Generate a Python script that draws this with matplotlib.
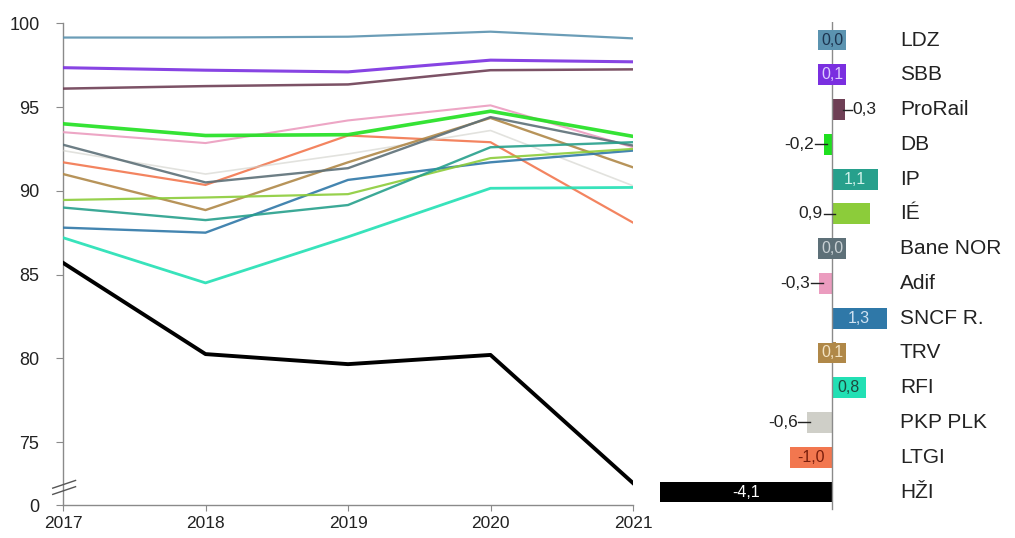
import matplotlib.pyplot as plt

plt.rcParams['font.family'] = ['Liberation Sans', 'DejaVu Sans']

# data
years = [2017, 2018, 2019, 2020, 2021]

ldz = [99.15, 99.15, 99.2, 99.5, 99.1]
sbb = [97.35, 97.2, 97.1, 97.8, 97.7]
prorail = [96.1, 96.25, 96.35, 97.2, 97.25]
db = [94.0, 93.3, 93.35, 94.75, 93.25]
ip = [89.0, 88.25, 89.15, 92.6, 92.9]
ie = [89.45, 89.6, 89.8, 91.95, 92.5]
bane_nor = [92.75, 90.5, 91.35, 94.4, 92.7]
adif = [93.5, 92.85, 94.2, 95.1, 92.6]
sncf = [87.8, 87.5, 90.65, 91.7, 92.4]
trv = [91.0, 88.85, 91.7, 94.35, 91.4]
rfi = [87.2, 84.5, 87.25, 90.15, 90.2]
pkp_plk = [92.4, 91.0, 92.2, 93.6, 90.3]
ltgi = [91.7, 90.35, 93.3, 92.9, 88.1]
hzi = [85.7, 80.25, 79.65, 80.2, 72.55]

names = ['LDZ', 'SBB', 'ProRail', 'DB', 'IP', 'IÉ', 'Bane NOR', 'Adif',
         'SNCF R.', 'TRV', 'RFI', 'PKP PLK', 'LTGI', 'HŽI']
series = [ldz, sbb, prorail, db, ip, ie, bane_nor, adif,
          sncf, trv, rfi, pkp_plk, ltgi, hzi]
change = [0.0, 0.1, 0.3, -0.2, 1.1, 0.9, 0.0, -0.3, 1.3, 0.1, 0.8, -0.6, -1.0, -4.1]

# styles
colors = ['#5b93b0', '#7a2fe0', '#6e3f55', '#1fe01f', '#27a08c', '#8ccc3a', '#5d7078',
          '#eb9cbf', '#2f78a8', '#b08848', '#22e0b4', '#cfcfc8', '#f2774f', '#000000']
widths = [1.6, 2.2, 1.8, 2.6, 1.7, 1.6, 1.7, 1.5, 1.7, 1.7, 2.0, 1.2, 1.6, 2.8]
label_pos = ['box', 'box', 'right', 'left', 'in', 'left', 'box', 'left',
             'in', 'box', 'in', 'left', 'in', 'in']
label_col = ['#1d3550', '#dcccff', '#222222', '#222222', '#d0f2ea', '#222222', '#c8d0d4',
             '#222222', '#cfe2f2', '#f3e3c3', '#1e4a3e', '#222222', '#7a1e0c', '#ffffff']

W, H = 1015, 538
fig = plt.figure(figsize=(W / 100, H / 100), dpi=100)

# ---- line chart ----
ax1 = fig.add_axes([63 / W, 1 - 505 / H, 570 / W, (505 - 23.3) / H])
for i in range(len(series))[::-1]:
    a = 0.9
    if i == 13:
        a = 1
    elif i == 11:
        a = 0.6
    ax1.plot(years, series[i], color=colors[i], lw=widths[i], alpha=a,
             zorder=3 + (i in (0, 1, 2, 3, 13)))

ybot = 71.24
ax1.set_xlim(2017, 2021)
ax1.set_ylim(ybot, 100.0)
ax1.set_yticks([ybot, 75, 80, 85, 90, 95, 100])
ax1.set_yticklabels(['0', '75', '80', '85', '90', '95', '100'])
ax1.set_xticks(years)
ax1.set_xticklabels([str(y) for y in years])
for s in ['top', 'right']:
    ax1.spines[s].set_visible(False)
for s in ['left', 'bottom']:
    ax1.spines[s].set_color('#8a8a8a')
    ax1.spines[s].set_linewidth(1.0)
ax1.tick_params(axis='y', length=5, pad=12, color='#8a8a8a', labelsize=13, labelcolor='#222222')
ax1.tick_params(axis='x', length=4, pad=4, color='#8a8a8a', labelsize=12.5, labelcolor='#222222')

# axis break marks
for dy in (0.0, 0.013):
    ax1.plot([-0.018, 0.022], [0.022 + dy, 0.038 + dy], transform=ax1.transAxes,
             color='#555555', lw=1.0, clip_on=False, zorder=5)

# ---- bar chart ----
px_unit = 42.0
x0 = 832
ax2 = fig.add_axes([650 / W, 1 - 520 / H, 365 / W, (520 - 22) / H])
ax2.set_xlim((650 - x0) / px_unit, (1015 - x0) / px_unit)
row = 34.77
ax2.set_ylim((520 - 40) / row, (22 - 40) / row)
ax2.axis('off')

idx = list(range(len(names)))
ax2.barh(idx, change, height=0.6, color=colors, zorder=2)
ax2.axvline(0, ymin=(520 - 509) / 498, ymax=1, color='#8a8a8a', lw=1.0, zorder=3)

for i, v in enumerate(change):
    txt = f'{v:.1f}'.replace('.', ',')
    p = label_pos[i]
    if p == 'box':
        ax2.text(0, i, txt, ha='center', va='center', fontsize=11.5, color=label_col[i],
                 zorder=4, bbox=dict(boxstyle='square,pad=0.18', fc=colors[i], ec='none'))
    elif p == 'in':
        ax2.text(v / 2, i, txt, ha='center', va='center', fontsize=11.5,
                 color=label_col[i], zorder=4)
    elif p == 'left':
        edge = min(v, 0)
        ax2.plot([edge - 0.2, edge + 0.08], [i, i], color='#222222', lw=1.0, zorder=4)
        ax2.text(edge - 0.22, i, txt, ha='right', va='center', fontsize=12.5,
                 color=label_col[i], zorder=4)
    else:
        ax2.plot([v - 0.05, v + 0.17], [i, i], color='#222222', lw=1.0, zorder=4)
        ax2.text(v + 0.19, i, txt, ha='left', va='center', fontsize=12.5,
                 color=label_col[i], zorder=4)
    ax2.text((900 - x0) / px_unit, i, names[i], ha='left', va='center',
             fontsize=15, color='#222222')

fig.savefig('out.png', dpi=100)
